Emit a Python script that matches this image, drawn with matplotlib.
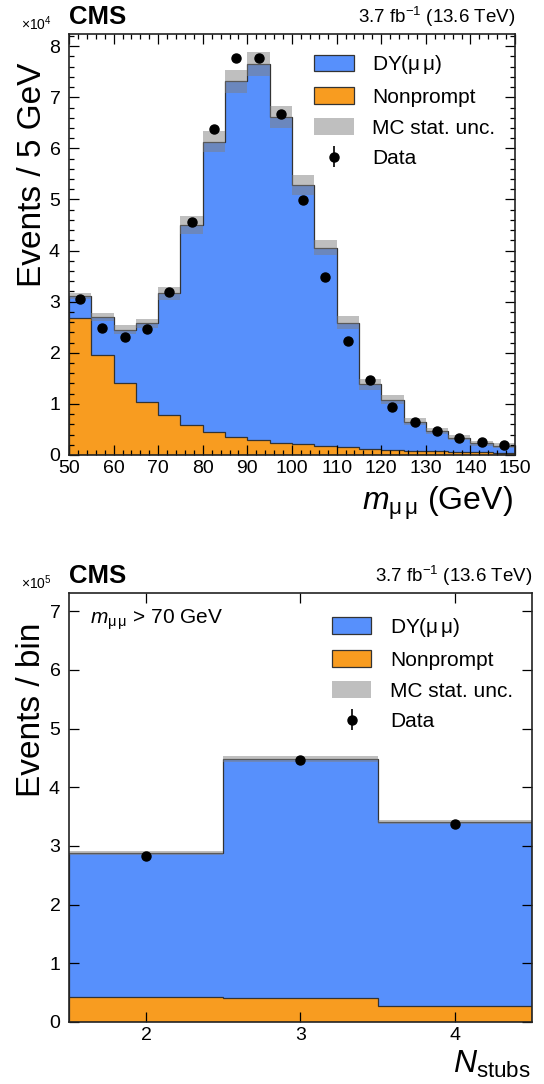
import numpy as np
import matplotlib.pyplot as plt
from matplotlib.patches import Patch
from matplotlib.ticker import MultipleLocator, ScalarFormatter

plt.rcParams['font.family'] = ['Liberation Sans', 'DejaVu Sans']
plt.rcParams['mathtext.fontset'] = 'custom'
plt.rcParams['mathtext.rm'] = 'Liberation Sans'
plt.rcParams['mathtext.it'] = 'Liberation Sans:italic'
plt.rcParams['mathtext.bf'] = 'Liberation Sans:bold'

# --- m_mumu distribution, 5 GeV bins ---
mass_edges = [50, 55, 60, 65, 70, 75, 80, 85, 90, 95, 100,
              105, 110, 115, 120, 125, 130, 135, 140, 145, 150]
nonprompt_m = [26800, 19600, 14000, 10300, 7800, 5900, 4400, 3600, 3000, 2400,
               2200, 1800, 1600, 1100, 1000, 850, 750, 650, 550, 450]
dy_m = [4300, 7400, 10500, 15500, 23800, 39100, 56900, 69500, 73500, 63800,
        50600, 38800, 24300, 12700, 9800, 5650, 3950, 2750, 1750, 1350]
unc_m = [600, 750, 900, 900, 1200, 1700, 2100, 2200, 2300, 2150,
         1900, 1500, 1300, 1000, 900, 700, 650, 500, 500, 450]
data_m = [30600, 24900, 23100, 24600, 31800, 45500, 63700, 77600, 77600, 66700,
          49900, 34900, 22300, 14700, 9300, 6500, 4700, 3300, 2600, 2000]

# --- N_stubs distribution, m_mumu > 70 GeV ---
stub_edges = [1.5, 2.5, 3.5, 4.5]
nonprompt_n = [42000, 41000, 27000]
dy_n = [246000, 407000, 313000]
unc_n = [3500, 5000, 3500]
data_n = [283000, 446000, 337000]

c_dy = '#5790fc'
c_np = '#f89c20'
lumi = r'3.7 fb$^{-1}$ (13.6 TeV)'
mumu = r'$\mathrm{μ\,μ}$'


def draw(ax, edges, nonprompt, dy, unc, data, width, leg_anchor):
    edges = np.array(edges, dtype=float)
    nonprompt = np.array(nonprompt, dtype=float)
    total = nonprompt + np.array(dy, dtype=float)
    unc = np.array(unc, dtype=float)
    centers = 0.5 * (edges[1:] + edges[:-1])
    ax.stairs(nonprompt, edges, baseline=0, fill=True, color=c_np)
    ax.stairs(total, edges, baseline=nonprompt, fill=True, color=c_dy)
    ax.stairs(nonprompt, edges, baseline=None, color='#333333', lw=0.9)
    ax.stairs(total, edges, baseline=0, color='#333333', lw=0.9)
    ax.bar(centers, 2 * unc, bottom=total - unc, width=width,
           color='grey', alpha=0.5, lw=0)
    eb = ax.errorbar(centers, data, yerr=np.sqrt(data), fmt='o', color='black',
                     ms=6.5, elinewidth=1.2, capsize=0)
    handles = [Patch(facecolor=c_dy, edgecolor='#333333', lw=0.9),
               Patch(facecolor=c_np, edgecolor='#333333', lw=0.9),
               Patch(facecolor='grey', alpha=0.5, lw=0),
               eb]
    labels = ['DY(' + mumu + ')', 'Nonprompt', 'MC stat. unc.', 'Data']
    ax.legend(handles, labels, loc='upper right', bbox_to_anchor=leg_anchor,
              frameon=False, fontsize=15, handlelength=1.9, handleheight=0.85,
              handletextpad=0.9, labelspacing=0.54)
    ax.tick_params(which='both', direction='in', top=True, right=True, labelsize=14)
    ax.tick_params(which='major', length=7.5, width=0.9)
    ax.tick_params(which='minor', length=3.8, width=0.9)
    ax.tick_params(axis='y', pad=6)
    for s in ax.spines.values():
        s.set_linewidth(1.2)
        s.set_color('#222222')
    fmt = ScalarFormatter(useMathText=True)
    fmt.set_powerlimits((0, 0))
    ax.yaxis.set_major_formatter(fmt)
    off = ax.yaxis.get_offset_text()
    off.set_fontsize(10)
    off.set_x(-0.038)
    off.set_horizontalalignment('right')
    ax.text(0.0, 1.012, 'CMS', transform=ax.transAxes, fontsize=18.5,
            fontweight='bold', ha='left', va='bottom')
    ax.text(1.0, 1.012, lumi, transform=ax.transAxes, fontsize=13.5,
            ha='right', va='bottom')


fig = plt.figure(figsize=(5.44, 10.84), dpi=100)

ax1 = fig.add_axes([0.1268, 0.5803, 0.820, 0.3884])
draw(ax1, mass_edges, nonprompt_m, dy_m, unc_m, data_m, 5, (0.998, 0.999))
ax1.set_xlim(50, 150)
ax1.set_ylim(0, 82400)
ax1.xaxis.set_major_locator(MultipleLocator(10))
ax1.xaxis.set_minor_locator(MultipleLocator(2))
ax1.yaxis.set_major_locator(MultipleLocator(10000))
ax1.yaxis.set_minor_locator(MultipleLocator(2000))
ax1.set_ylabel('Events / 5 GeV', fontsize=24, loc='top')
ax1.yaxis.set_label_coords(-0.048, 0.931)
ax1.set_xlabel(r'$m_{\mathrm{μ\,μ}}$ (GeV)', fontsize=23, loc='right')
ax1.xaxis.set_label_coords(0.995, -0.07)

ax2 = fig.add_axes([0.1268, 0.0572, 0.851, 0.3958])
draw(ax2, stub_edges, nonprompt_n, dy_n, unc_n, data_n, 1, (1.0, 0.99))
ax2.set_xlim(1.5, 4.5)
ax2.set_ylim(0, 731000)
ax2.set_xticks([2, 3, 4])
ax2.yaxis.set_major_locator(MultipleLocator(100000))
ax2.set_ylabel('Events / bin', fontsize=24, loc='top')
ax2.yaxis.set_label_coords(-0.047, 0.93)
ax2.set_xlabel(r'$N_{\mathrm{stubs}}$', fontsize=23, loc='right')
ax2.xaxis.set_label_coords(0.997, -0.063)
ax2.text(0.045, 0.965, r'$m_{\mathrm{μ\,μ}}$ > 70 GeV', transform=ax2.transAxes,
         fontsize=15, ha='left', va='top')

fig.savefig('out.png', dpi=100)
